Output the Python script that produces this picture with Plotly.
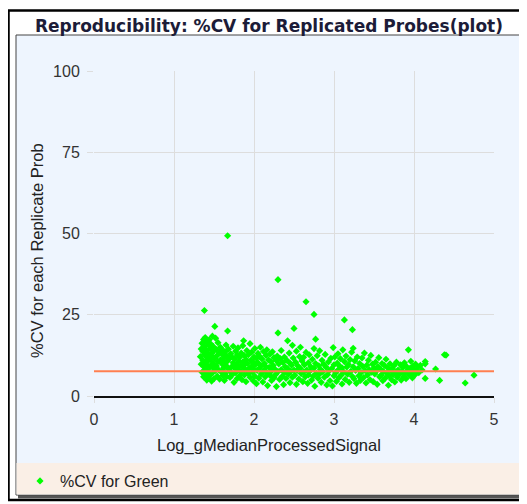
import plotly.graph_objects as go

# ---- data ----
band_a = [(1.33,12.1),(1.34,14.5),(1.34,9.8),(1.35,16.2),(1.35,7.3),(1.36,11.0),(1.36,13.7),(1.37,17.4),(1.37,5.9),(1.37,9.1),
          (1.38,26.3),(1.38,15.1),(1.38,12.8),(1.39,8.2),(1.39,18.0),(1.39,10.4),(1.40,6.8),(1.40,14.0),(1.40,16.7),(1.41,11.9),
          (1.41,4.9),(1.41,9.5),(1.42,13.3),(1.42,7.7),(1.43,15.8),(1.43,10.9),(1.43,5.6),(1.44,12.2),(1.44,17.3),(1.45,8.9),
          (1.45,14.6),(1.45,6.4),(1.46,11.3),(1.46,16.0),(1.47,9.7),(1.47,13.1),(1.47,4.6),(1.48,7.1),(1.48,18.4),(1.48,12.0),
          (1.49,15.2),(1.49,10.1),(1.50,8.4),(1.50,13.9),(1.50,5.3),(1.51,21.4),(1.51,11.6),(1.52,17.8),(1.52,7.9),(1.53,14.3),
          (1.53,9.2),(1.54,6.1),(1.54,12.5),(1.55,16.4),(1.55,10.6)]
band_b = [(1.56,8.0),(1.57,13.4),(1.57,5.2),(1.58,11.1),(1.58,15.0),(1.59,7.4),(1.60,9.9),(1.60,12.9),(1.61,6.3),(1.61,14.1),
          (1.62,10.3),(1.62,8.6),(1.63,11.8),(1.63,4.8),(1.64,13.6),(1.64,7.0),(1.65,9.4),(1.65,15.7),(1.66,12.3),(1.66,6.0),
          (1.67,49.3),(1.67,20.0),(1.67,10.8),(1.68,8.3),(1.68,14.4),(1.69,11.5),(1.70,7.6),(1.70,5.7),(1.71,13.0),(1.72,9.0),
          (1.72,12.1),(1.73,6.6),(1.74,15.3),(1.74,10.2),(1.75,8.8),(1.75,4.2),(1.76,11.4),(1.77,13.8),(1.77,7.2),(1.78,9.6),
          (1.79,5.4),(1.79,12.6),(1.80,14.8),(1.80,8.1),(1.81,10.7),(1.82,6.2),(1.82,11.9),(1.83,9.3),(1.84,13.2),(1.84,7.5),
          (1.85,5.0),(1.86,10.5),(1.86,15.5),(1.87,17.0),(1.87,8.7),(1.88,12.4),(1.88,6.5),(1.89,9.8),(1.90,11.2),(1.90,4.4),
          (1.91,14.0),(1.91,7.8),(1.92,10.0),(1.93,12.7),(1.93,6.9),(1.94,8.5),(1.95,16.1),(1.95,5.8),(1.96,11.0),(1.97,9.1),
          (1.97,13.5),(1.98,7.3),(1.99,10.4),(1.99,4.7),(2.00,12.0),(2.00,8.2)]
band_c = [(2.01,14.6),(2.01,6.1),(2.02,9.7),(2.03,11.6),(2.03,3.8),(2.04,7.9),(2.05,13.1),(2.05,10.2),(2.06,5.5),(2.07,8.6),
          (2.07,12.2),(2.08,15.0),(2.09,6.8),(2.09,9.3),(2.10,11.4),(2.11,4.3),(2.11,7.4),(2.12,13.7),(2.13,10.0),(2.13,8.0),
          (2.14,5.9),(2.15,12.5),(2.15,9.0),(2.16,14.2),(2.17,7.0),(2.17,3.2),(2.18,11.1),(2.19,8.8),(2.20,6.3),(2.20,12.9),
          (2.21,10.6),(2.22,4.8),(2.22,7.7),(2.23,13.6),(2.24,9.4),(2.25,11.8),(2.25,5.6),(2.26,8.3),(2.27,6.6),(2.28,10.9),
          (2.28,2.9),(2.29,12.3),(2.30,35.8),(2.30,19.4),(2.30,7.5),(2.31,9.9),(2.32,5.1),(2.33,11.5),(2.34,8.1),(2.34,14.0),
          (2.35,6.0),(2.36,10.3),(2.37,3.5),(2.38,7.2),(2.38,12.0),(2.39,9.0),(2.40,5.4),(2.41,11.0),(2.42,17.0),(2.42,8.4),
          (2.43,6.7),(2.44,13.2),(2.45,10.1),(2.45,4.1),(2.46,7.6),(2.47,9.5),(2.48,15.6),(2.48,5.8),(2.49,11.7),(2.50,20.8),
          (2.50,8.0)]
band_d = [(2.51,6.4),(2.52,10.4),(2.53,13.8),(2.53,3.6),(2.54,7.9),(2.55,9.2),(2.56,5.2),(2.57,12.1),(2.58,8.5),(2.58,15.0),
          (2.59,6.9),(2.60,10.8),(2.61,4.4),(2.62,7.3),(2.62,11.9),(2.63,9.6),(2.64,5.9),(2.65,29.0),(2.65,13.4),(2.66,8.0),
          (2.67,3.9),(2.68,10.2),(2.68,6.5),(2.69,12.7),(2.70,7.7),(2.71,9.0),(2.72,4.9),(2.73,11.3),(2.74,6.1),(2.75,25.1),
          (2.75,14.6),(2.75,8.6),(2.76,3.0),(2.77,17.5),(2.77,10.0),(2.78,7.0),(2.79,12.4),(2.80,5.5),(2.81,9.3),(2.82,13.9),
          (2.82,6.8),(2.83,8.2),(2.84,4.2),(2.85,11.0),(2.86,7.5),(2.87,9.8),(2.88,5.8),(2.89,12.8),(2.90,8.9),(2.91,3.4),
          (2.92,6.6),(2.93,10.5),(2.94,7.8),(2.95,4.7),(2.96,11.6),(2.97,8.4),(2.98,3.1),(2.99,14.9),(3.00,6.2),(3.00,9.6)]
band_e = [(3.01,12.0),(3.02,7.1),(3.03,4.5),(3.04,10.1),(3.05,13.0),(3.05,8.0),(3.06,5.6),(3.07,9.2),(3.08,11.5),(3.09,6.4),
          (3.10,3.7),(3.10,8.7),(3.11,14.2),(3.12,7.4),(3.13,23.4),(3.13,10.6),(3.14,5.1),(3.15,12.3),(3.16,8.9),(3.17,6.7),
          (3.18,9.7),(3.19,4.2),(3.20,11.2),(3.21,7.6),(3.22,13.5),(3.23,20.4),(3.23,6.0),(3.24,14.7),(3.24,9.0),(3.25,5.3),
          (3.26,10.8),(3.27,7.9),(3.28,3.9),(3.29,12.0),(3.30,8.4),(3.31,6.2),(3.32,10.0),(3.33,4.8),(3.34,7.2),(3.35,11.7),
          (3.36,9.1),(3.37,5.7),(3.38,13.2),(3.39,7.8),(3.40,4.0),(3.41,9.5),(3.42,6.5),(3.43,11.0),(3.44,8.1),(3.45,5.0),
          (3.46,12.5),(3.47,7.3),(3.48,9.8),(3.49,4.4),(3.50,8.6)]
band_f = [(3.51,6.8),(3.52,10.4),(3.53,7.7),(3.54,3.6),(3.55,9.0),(3.56,11.8),(3.57,5.9),(3.58,8.3),(3.59,6.4),(3.60,10.0),
          (3.61,4.7),(3.62,7.5),(3.63,9.4),(3.64,5.5),(3.65,11.3),(3.66,7.0),(3.67,8.7),(3.68,3.3),(3.69,6.2),(3.70,9.9),
          (3.71,7.8),(3.72,5.0),(3.73,8.4),(3.74,6.6),(3.75,9.3),(3.76,4.3),(3.77,7.2),(3.78,10.4),(3.79,5.8),(3.80,8.0),
          (3.82,6.9),(3.83,9.6),(3.84,4.9),(3.85,7.4),(3.86,8.8),(3.87,6.0),(3.88,10.2),(3.89,7.1),(3.90,5.3),(3.91,9.0),
          (3.92,7.9),(3.93,14.2),(3.94,6.4),(3.95,8.5),(3.96,10.7),(3.97,7.0),(3.98,5.6),(3.99,9.3),(4.00,8.1),(4.01,6.5),
          (4.02,9.8),(4.03,7.6),(4.05,8.9),(4.06,7.2),(4.08,9.4),(4.10,8.0)]
band_g = [(4.14,10.6),(4.14,9.9),(4.14,5.4),(4.27,8.3),(4.32,4.8),(4.38,12.7),(4.40,12.6),(4.64,4.0),(4.75,6.4)]

cv_threshold = 7.6
x_ticks = [0, 1, 2, 3, 4, 5]
y_ticks = [0, 25, 50, 75, 100]

points = band_a + band_b + band_c + band_d + band_e + band_f + band_g
log_signal = [p[0] for p in points]
cv_green = [p[1] for p in points]

# ---- layout geometry (page pixels; the page body has an 8px margin) ----
OFF = 8
W, H = 527 - OFF, 504 - OFF
PX0, PX1, PY0, PY1 = 94, 494, 71, 396   # plot area in page pixels
L, T = PX0 - OFF, PY0 - OFF
PW, PH = PX1 - PX0, PY1 - PY0
R, B = W - L - PW, H - T - PH

def fx(px):
    return (px - PX0) / PW

def fy(py):
    return (PY1 - py) / PH

FONT = "Liberation Sans"

fig = go.Figure()
fig.add_trace(go.Scatter(
    x=log_signal, y=cv_green, mode="markers", name="%CV for Green",
    marker=dict(symbol="diamond", size=5.5, color="#00ff00", line=dict(width=0)),
))
fig.add_trace(go.Scatter(
    x=[x_ticks[0], x_ticks[-1]], y=[cv_threshold, cv_threshold], mode="lines",
    line=dict(color="#ff7f50", width=2), showlegend=False, hoverinfo="skip",
))

shapes = [
    dict(type="rect", xref="paper", yref="paper", x0=fx(8.5), x1=fx(523.5), y0=fy(500), y1=fy(10.5),
         line=dict(color="black", width=2.5), fillcolor="white", layer="below"),
    dict(type="rect", xref="paper", yref="paper", x0=fx(18), x1=fx(523.5), y0=fy(498.5), y1=fy(37),
         line=dict(width=0), fillcolor="#555555", layer="below"),
    dict(type="rect", xref="paper", yref="paper", x0=fx(16), x1=fx(521), y0=fy(495), y1=fy(35),
         line=dict(color="#444444", width=1), fillcolor="#eef5fe", layer="below"),
    dict(type="rect", xref="paper", yref="paper", x0=fx(16.5), x1=fx(520.5), y0=fy(494.5), y1=fy(463),
         line=dict(width=0), fillcolor="#faefe6", layer="below"),
]

annotations = [
    dict(text="<b>Reproducibility: %CV for Replicated Probes(plot)</b>", xref="paper", yref="paper",
         x=fx(269), y=fy(26), xanchor="center", yanchor="middle", showarrow=False,
         font=dict(family="DejaVu Sans", size=17, color="#1c1c38")),
    dict(text="Log_gMedianProcessedSignal", xref="paper", yref="paper",
         x=fx(269), y=fy(445), xanchor="center", yanchor="middle", showarrow=False,
         font=dict(family=FONT, size=16.5, color="#222222")),
    dict(text="%CV for each Replicate Prob", xref="paper", yref="paper", textangle=-90,
         x=fx(37), y=fy(251), xanchor="center", yanchor="middle", showarrow=False,
         font=dict(family=FONT, size=16.5, color="#222222")),
]

fig.update_layout(
    template="none",
    width=W, height=H, autosize=False,
    margin=dict(l=L, r=R, t=T, b=B, pad=0, autoexpand=False),
    paper_bgcolor="white", plot_bgcolor="rgba(0,0,0,0)",
    shapes=shapes, annotations=annotations,
    showlegend=True,
    legend=dict(x=fx(20), y=fy(481), xanchor="left", yanchor="middle", orientation="h",
                bgcolor="rgba(0,0,0,0)", borderwidth=0,
                font=dict(family=FONT, size=16, color="#222222"), itemwidth=30),
    xaxis=dict(range=[0, 5], tickvals=x_ticks, showgrid=True, gridcolor="#dddddd", gridwidth=1,
               zeroline=False, showline=True, linecolor="#111111", linewidth=2,
               ticks="outside", ticklen=5, tickcolor="#dddddd", ticklabelstandoff=3, automargin=False,
               tickfont=dict(family=FONT, size=16, color="#333333")),
    yaxis=dict(range=[0, 100], tickvals=y_ticks, showgrid=True, gridcolor="#dddddd", gridwidth=1,
               zeroline=False, showline=False, automargin=False,
               ticks="outside", ticklen=6, tickcolor="#dddddd", ticklabelstandoff=4,
               tickfont=dict(family=FONT, size=16, color="#333333")),
)

fig.write_html("out.html")
